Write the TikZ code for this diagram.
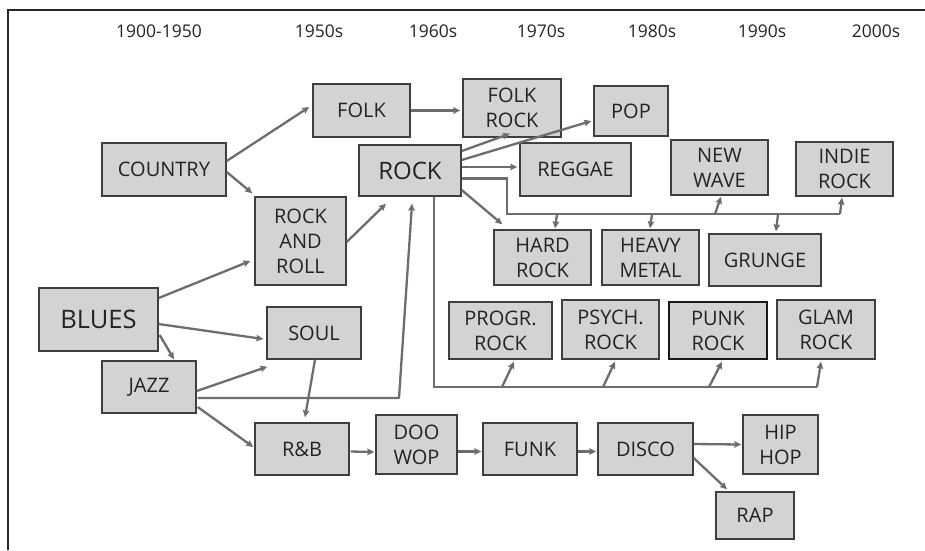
\documentclass[tikz,border=0pt]{standalone}
\usepackage{fontspec}
\setmainfont{Open Sans}
\usetikzlibrary{arrows.meta}
\definecolor{boxfill}{HTML}{D3D3D5}
\definecolor{boxline}{HTML}{3F3F3F}
\definecolor{conncol}{HTML}{6D6D6F}
\definecolor{txt}{HTML}{232323}
\begin{document}
\begin{tikzpicture}[x=1pt,y=-1pt,
  gbox/.style={draw=boxline, fill=boxfill, line width=1.4pt, inner sep=0pt, align=center, text=txt, font=\fontsize{20}{25}\selectfont},
  hdr/.style={inner sep=0pt, text=txt, font=\fontsize{17.5}{20}\selectfont},
  conn/.style={draw=conncol, line width=2.3pt, line join=round, -{Stealth[length=7pt,width=6.5pt,inset=1pt]}},
  bus/.style={draw=conncol, line width=2.3pt, line join=miter}]
\useasboundingbox (0,0) rectangle (925,550);
\draw[line width=1.3pt, draw=black!85] (8,550) -- (8,10) -- (925,10);
% headers
\node[hdr] (h1) at (159,31) {1900-1950};
\node[hdr] (h2) at (319,31) {1950s};
\node[hdr] (h3) at (433,31) {1960s};
\node[hdr] (h4) at (541,31) {1970s};
\node[hdr] (h5) at (652,31) {1980s};
\node[hdr] (h6) at (762,31) {1990s};
\node[hdr] (h7) at (876,31) {2000s};
% boxes
\node[gbox, minimum width=124pt, minimum height=53pt] (country) at (164,169.5) {COUNTRY};
\node[gbox, minimum width=97pt, minimum height=53pt] (folk) at (361.5,110.5) {FOLK};
\node[gbox, minimum width=102pt, minimum height=51pt, font=\fontsize{24}{28}\selectfont] (rock) at (410,170.5) {ROCK};
\node[gbox, minimum width=91pt, minimum height=88pt] (rnr) at (300.5,241) {ROCK\\AND\\ROLL};
\node[gbox, minimum width=98pt, minimum height=58pt] (folkrock) at (512,108) {FOLK\\ROCK};
\node[gbox, minimum width=74pt, minimum height=50pt] (pop) at (631,111) {POP};
\node[gbox, minimum width=111pt, minimum height=53pt] (reggae) at (575.5,169.5) {REGGAE};
\node[gbox, minimum width=97pt, minimum height=55pt] (newwave) at (719.5,167.5) {NEW\\WAVE};
\node[gbox, minimum width=97pt, minimum height=54pt] (indie) at (844.5,169) {INDIE\\ROCK};
\node[gbox, minimum width=97pt, minimum height=55pt] (hard) at (542.5,257.5) {HARD\\ROCK};
\node[gbox, minimum width=97pt, minimum height=55pt] (heavy) at (650.5,257.5) {HEAVY\\METAL};
\node[gbox, minimum width=112pt, minimum height=52pt] (grunge) at (765,260) {GRUNGE};
\node[gbox, minimum width=103pt, minimum height=57pt] (progr) at (500.5,330.5) {PROGR.\\ROCK};
\node[gbox, minimum width=97pt, minimum height=59pt] (psych) at (610.5,329.5) {PSYCH.\\ROCK};
\node[gbox, minimum width=98pt, minimum height=57pt, draw=black!90] (punk) at (718,330.5) {PUNK\\ROCK};
\node[gbox, minimum width=98pt, minimum height=59pt] (glam) at (826,329.5) {GLAM\\ROCK};
\node[gbox, minimum width=119pt, minimum height=63pt, font=\fontsize{25.5}{30}\selectfont] (blues) at (98.5,319.5) {BLUES};
\node[gbox, minimum width=94pt, minimum height=52pt] (soul) at (314,333) {SOUL};
\node[gbox, minimum width=94pt, minimum height=52pt] (jazz) at (149,387) {JAZZ};
\node[gbox, minimum width=94pt, minimum height=52pt] (rnb) at (302,449) {R\&B};
\node[gbox, minimum width=81pt, minimum height=59pt] (doowop) at (416.5,444.5) {DOO\\WOP};
\node[gbox, minimum width=94pt, minimum height=52pt] (funk) at (530,449) {FUNK};
\node[gbox, minimum width=95pt, minimum height=52pt] (disco) at (645.5,449) {DISCO};
\node[gbox, minimum width=75pt, minimum height=59pt] (hiphop) at (780.5,444.5) {HIP\\HOP};
\node[gbox, minimum width=78pt, minimum height=47pt] (rap) at (755,515.5) {RAP};
% connectors
\draw[conn] ([shift={(0,-8.5)}]country.east) -- ([shift={(-3,-3.5)}]folk.west);
\draw[conn] ([shift={(0,2.5)}]country.east) -- ([shift={(-2,-3)}]rnr.north west);
\draw[conn] ([shift={(0,1)}]rnr.east) -- ([shift={(-24,7)}]rock.south);
\draw[conn] (folk.east) -- ([shift={(-2,2.5)}]folkrock.west);
\draw[conn] ([shift={(0,-19.5)}]rock.east) -- ([shift={(-2,-4)}]folkrock.south);
\draw[conn] ([shift={(0,-10.5)}]rock.east) -- ([shift={(-2,10)}]pop.west);
\draw[conn] ([shift={(0,-3.5)}]rock.east) -- ([shift={(-2,-2.5)}]reggae.west);
\draw[conn] ([shift={(0,19.5)}]rock.east) -- ([shift={(9,-5)}]hard.north west);
% upper bus
\coordinate (ua) at (507,178.5);
\coordinate (ub) at (507,214);
\coordinate (uc) at (840,214);
\coordinate (u1) at (557,214);
\coordinate (u2) at (652,214);
\coordinate (u3) at (715,214);
\coordinate (u4) at (778,214);
\draw[bus] ([shift={(0,8)}]rock.east) -- (ua) -- (ub) -- (uc);
\draw[conn] (uc) -- ([shift={(-2.5,1)}]indie.south);
\draw[conn] (u1) -- ([shift={(12.5,-1)}]hard.north);
\draw[conn] (u2) -- ([shift={(-0.5,-1)}]heavy.north);
\draw[conn] (u3) -- ([shift={(1.5,1)}]newwave.south);
\draw[conn] (u4) -- ([shift={(11,-2)}]grunge.north);
% lower bus
\coordinate (la) at (434,387);
\coordinate (lb) at (817,387);
\coordinate (l1) at (502,387);
\coordinate (l2) at (603,387);
\coordinate (l3) at (709,387);
\draw[bus] ([shift={(24,0)}]rock.south) -- (la) -- (lb);
\draw[conn] (lb) -- ([shift={(-5,2)}]glam.south);
\draw[conn] (l1) -- ([shift={(13.5,2)}]progr.south);
\draw[conn] (l2) -- ([shift={(4.5,2)}]psych.south);
\draw[conn] (l3) -- ([shift={(4,2)}]punk.south);
% blues / jazz
\draw[conn] ([shift={(0,-21.5)}]blues.east) -- ([shift={(-4,20)}]rnr.west);
\draw[conn] ([shift={(0,4.5)}]blues.east) -- ([shift={(-3,6)}]soul.west);
\draw[conn] ([shift={(1,15.5)}]blues.east) -- ([shift={(25,-1)}]jazz.north);
\draw[conn] ([shift={(0,4)}]jazz.east) -- ([shift={(1,7)}]soul.south west);
\coordinate (jr) at (399,398);
\draw[conn] ([shift={(1,11)}]jazz.east) -- (jr) -- ([shift={(2,7)}]rock.south);
\draw[conn] ([shift={(1,20)}]jazz.east) -- ([shift={(-1,-2)}]rnb.west);
\draw[conn] ([shift={(1,0)}]soul.south) -- ([shift={(3,-5)}]rnb.north);
\draw[conn] ([shift={(1,2.5)}]rnb.east) -- ([shift={(-1,7.5)}]doowop.west);
\draw[conn] ([shift={(0,7)}]doowop.east) -- ([shift={(-1,2.5)}]funk.west);
\draw[conn] ([shift={(0,2.5)}]funk.east) -- ([shift={(-1,2.5)}]disco.west);
\draw[conn] ([shift={(0,-5)}]disco.east) -- ([shift={(-1,0)}]hiphop.west);
\draw[conn] ([shift={(0,9)}]disco.east) -- ([shift={(-28,-2)}]rap.north);
\end{tikzpicture}
\end{document}
